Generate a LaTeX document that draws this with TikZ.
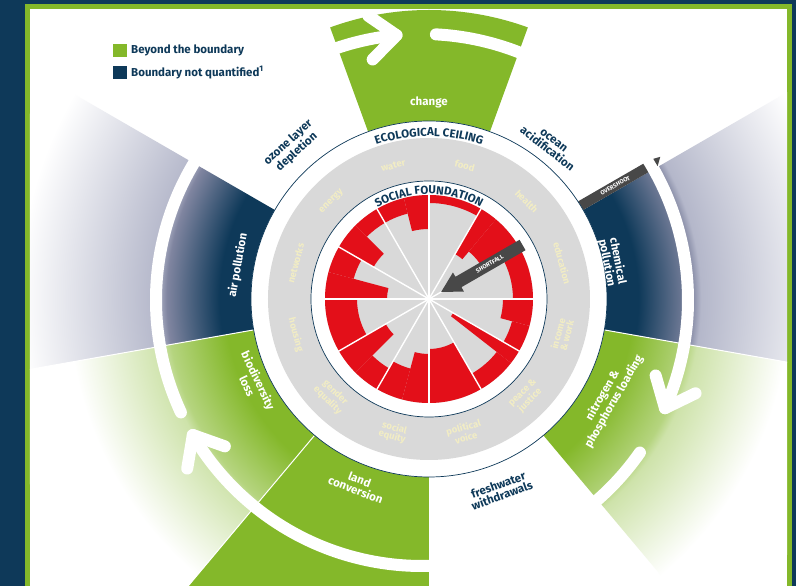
\documentclass[tikz,border=0pt]{standalone}
\usepackage{fontspec}
\setsansfont{Fira Sans}
\usetikzlibrary{decorations.text}

\definecolor{navy}{RGB}{14,57,89}
\definecolor{leaf}{RGB}{132,184,42}
\definecolor{fallred}{RGB}{227,15,25}
\definecolor{ringgrey}{RGB}{217,217,217}
\definecolor{cream}{RGB}{242,237,196}
\definecolor{bargrey}{RGB}{72,72,72}
\definecolor{haze}{RGB}{128,133,160}
\definecolor{mist}{RGB}{180,183,202}

% radius 440 maps to 25bp
\pgfdeclareradialshading{navyfade}{\pgfpoint{0bp}{0bp}}{color(0bp)=(navy); color(11.9bp)=(navy); color(14.9bp)=(haze); color(15.45bp)=(mist); color(23.3bp)=(white); color(50bp)=(white)}
\pgfdeclareradialshading{leaffade}{\pgfpoint{0bp}{0bp}}{color(0bp)=(leaf); color(11.65bp)=(leaf); color(14.9bp)=(leaf!60); color(15.45bp)=(leaf!40); color(20.5bp)=(white); color(50bp)=(white)}

\newcommand\wedgepath[4]{(#1:#3) arc[start angle=#1,end angle=#2,radius=#3] -- (#2:#4) arc[start angle=#2,end angle=#1,radius=#4] -- cycle}

\tikzset{
  pblabel/.style={font=\sffamily\bfseries\fontsize{11.5}{11}\selectfont, align=center, text=white},
  pbdark/.style={pblabel, text=navy},
  sflabel/.style={font=\sffamily\bfseries\fontsize{9.5}{9}\selectfont, align=center, text=cream},
  arrowring/.style={white, line width=12, line cap=round, line join=round},
  legendtext/.style={font=\sffamily\bfseries\fontsize{11.5}{11}\selectfont, text=navy, anchor=west, inner sep=0pt},
}

\begin{document}
\begin{tikzpicture}[x=1pt, y=1pt]
\useasboundingbox (-429,-287) rectangle (367,299);
% frame
\fill[navy] (-429,-287) rectangle (367,299);
\fill[leaf] (-404,-287) rectangle (363,295);
\fill[white] (-399,-287) rectangle (358,290);

% legend
\fill[leaf] (-316,242) rectangle (-302,255);
\fill[navy] (-316,220) rectangle (-302,233);
\node[legendtext] (beyond) at (-298,248.5) {Beyond the boundary};
\node[legendtext] (notquant) at (-298,226.5) {Boundary not quantified\textsuperscript{1}};

\begin{scope}
\clip (-399,-287) rectangle (358,290);
% ecological ceiling sectors
\fill[leaf] \wedgepath{70}{110}{178}{289};
\fill[leaf] \wedgepath{-130}{-90}{178}{400};
\begin{scope}
  \clip \wedgepath{-10}{30}{178}{440};
  \shade[shading=navyfade] (0,0) circle (440);
\end{scope}
\begin{scope}
  \clip \wedgepath{150}{190}{178}{440};
  \shade[shading=navyfade] (0,0) circle (440);
\end{scope}
\begin{scope}
  \clip \wedgepath{-50}{-10}{178}{440};
  \shade[shading=leaffade] (0,0) circle (440);
\end{scope}
\begin{scope}
  \clip \wedgepath{-170}{-130}{178}{440};
  \shade[shading=leaffade] (0,0) circle (440);
\end{scope}
\foreach \a in {-10,-130,-170}
  \draw[white, line width=1] (\a:178) -- (\a:440);

% overshoot bar
\draw[bargrey, line width=10] ([shift={(120:5)}]30:178) -- ([shift={(120:5)}]30:262);

% circular arrows
\draw[arrowring] ([shift={(-7,-1)}]87:266) arc[start angle=87, end angle=-24, radius=266];
\draw[arrowring] ([shift={(-7,-1)}]-35:266) arc[start angle=-35, end angle=-149.5, radius=266];
\draw[arrowring] ([shift={(-7,-1)}]205:266) arc[start angle=205, end angle=95.5, radius=266];
\foreach \t in {-24,-149.5,95.5}
  \draw[arrowring] ([shift={(-7,-1)}]\t:266) ++(\t+50:34) -- ([shift={(-7,-1)}]\t:266) -- ++(\t+130:34);
\fill[bargrey] ([shift={(-7,-1)}]29.6:271) -- ([shift={(-7,-1)}]31.4:271) -- ([shift={(-7,-1)}]31.0:278) -- cycle;

% rings
\fill[white] (0,0) circle (178);
\draw[navy, line width=0.7] (0,0) circle (178);
\fill[ringgrey] (0,0) circle (161);
\fill[white] (0,0) circle (118);
\draw[navy, line width=0.7] (0,0) circle (118);
\fill[ringgrey] (0,0) circle (104);
\end{scope}

% social foundation shortfall
\foreach \a/\b/\r in {0/30/84, 30/50/62, 50/60/52, 60/90/96, 90/104/70, 104/120/88,
  120/135/88, 135/150/64, 150/165/78, 165/180/42, 180/210/72, 210/225/50, 225/240/80,
  240/255/72, 255/270/55, 270/300/50, 300/322/86, 322/330/28, 330/345/86, 345/360/74}
  \fill[fallred] \wedgepath{\a}{\b}{\r}{104};
\foreach \a in {0,30,...,330}
  \draw[white, line width=1.4] (0,0) -- (\a:105);

% shortfall arrow
\begin{scope}[rotate=30]
  \fill[bargrey] (108,6) -- (34,6) -- (34,11) -- (14,0) -- (34,-11) -- (34,-6) -- (108,-6) -- cycle;
  \node[font=\sffamily\bfseries\fontsize{6}{6}\selectfont, text=white, rotate=30, inner sep=0pt] (fall) at (70,0) {SHORTFALL};
\end{scope}
\node[font=\sffamily\bfseries\fontsize{6}{6}\selectfont, text=white, rotate=29, inner sep=0pt] (over) at ([shift={(120:5)}]30:218) {OVERSHOOT};

% ring titles
\path[decorate, decoration={text along path, text align=center, text color=navy,
  text={|\sffamily\bfseries\fontsize{11.5}{11}\selectfont|ECOLOGICAL CEILING}}]
  (122:163) arc[start angle=122, end angle=58, radius=163];
\path[decorate, decoration={text along path, text align=center, text color=navy,
  text={|\sffamily\bfseries\fontsize{11.5}{11}\selectfont|SOCIAL FOUNDATION}}]
  (135:105) arc[start angle=135, end angle=45, radius=105];

% social foundation labels
\foreach \a/\t in {15/education, 45/health, 75/food, 105/water, 135/energy, 165/networks,
  195/housing, 225/{gender\\equality}, 255/{social\\equity}, 285/{political\\voice},
  315/{peace \&\\justice}, 345/{income\\\& work}}{
  \pgfmathsetmacro\rot{(\a<180) ? \a-90 : \a+90}
  \node[sflabel, rotate=\rot] (sf\a) at (\a:138) {\t};
}

% planetary boundary labels
\node[pblabel] (climate) at (90:197) {change};
\node[pbdark, rotate=-38] (ocean) at (51.8:196) {ocean\\acidification};
\node[pblabel, rotate=-79] (chem) at (11.4:187) {chemical\\pollution};
\node[pblabel, rotate=60] (nitro) at (-29:205) {nitrogen \&\\phosphorus loading};
\node[pbdark, rotate=20] (fresh) at (-69.6:204) {freshwater\\withdrawals};
\node[pblabel, rotate=-21] (land) at (-111:199) {land\\conversion};
\node[pblabel, rotate=-64.5] (bio) at (-154.5:195) {biodiversity\\loss};
\node[pblabel, rotate=80] (air) at (170:194) {air pollution};
\node[pbdark, rotate=42] (ozone) at (132:204) {ozone layer\\depletion};
\end{tikzpicture}
\end{document}
